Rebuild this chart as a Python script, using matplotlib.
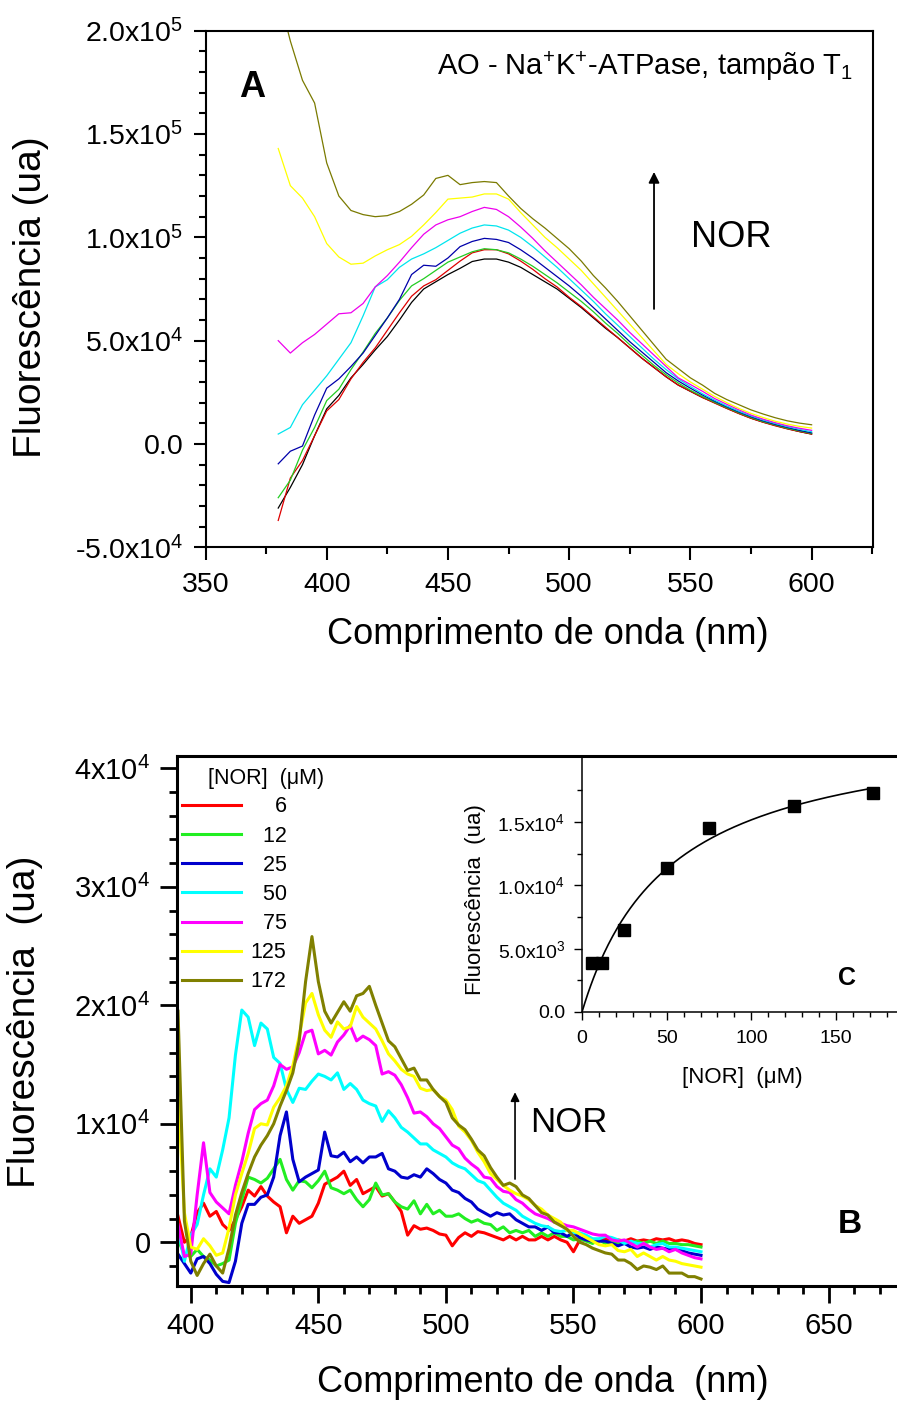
import numpy as np
import matplotlib
matplotlib.use("Agg")
import matplotlib.pyplot as plt
from matplotlib.ticker import MultipleLocator, FuncFormatter, FixedLocator

plt.rcParams['font.family'] = ['Liberation Sans', 'DejaVu Sans']
plt.rcParams['mathtext.fontset'] = 'custom'
plt.rcParams['mathtext.rm'] = 'Liberation Sans'
plt.rcParams['mathtext.it'] = 'Liberation Sans:italic'
plt.rcParams['mathtext.bf'] = 'Liberation Sans:bold'
plt.rcParams['mathtext.default'] = 'regular'

# =========================
# Painel A: espectros (x1000 ua), 380-600 nm, passo 5 nm
# =========================
wl_a = np.arange(380, 601, 5)

a_black = [-31, -21, -10, 4, 17, 23.5, 32, 38.5, 45.5, 52, 60, 68.5, 75, 78.5, 82,
           85, 88.3, 89.5, 89.5, 88, 85.5, 82, 78.5, 75, 70.5, 66, 61, 56, 51.5, 46.5,
           41.5, 37, 32.5, 28.5, 25.5, 22.5, 20, 17.3, 14.8, 12.5, 10.6, 9, 7.4, 6, 4.8]
a_red = [-37, -16.5, -8, 4, 16, 21.5, 31.5, 39.5, 46.5, 55, 63.5, 71.5, 76.5, 79.5, 84,
         88.5, 92.5, 94, 94, 92, 88.5, 84.5, 80, 76, 71, 66.5, 61.5, 56.5, 51.5, 46.5,
         41.5, 37, 32.5, 28.5, 25.5, 22.5, 19.8, 17.2, 14.7, 12.4, 10.5, 8.8, 7.3, 6, 4.8]
a_green = [-26, -17.5, -3, 8, 21, 26.5, 36, 44.5, 53.5, 61, 69.5, 76.5, 80, 84, 88,
           90.5, 93, 94.5, 94, 92.5, 89.5, 86, 82, 78, 73.5, 69, 64, 58.5, 53.5, 48,
           43, 38, 33.5, 29.5, 26, 23, 20.2, 17.6, 15.1, 12.8, 10.8, 9.2, 7.6, 6.3, 5.1]
a_blue = [-9.6, -3.5, -1, 14, 27, 31.5, 37.5, 44, 52.5, 61, 70, 82, 86.5, 86, 90,
          95.5, 98, 99.5, 99, 97.5, 94, 90, 85.5, 81, 76.5, 71.5, 66, 60.5, 55, 49.5,
          44.5, 39.5, 34.5, 30.5, 27, 23.7, 20.7, 18, 15.5, 13.2, 11.2, 9.5, 8, 6.6, 5.4]
a_cyan = [4.8, 8, 19, 26, 33, 41, 49, 62, 76, 79.5, 85.5, 89.5, 92, 95, 98.5,
          102, 104.5, 106, 105.5, 103.5, 100, 95.5, 90.5, 85.5, 80, 74.5, 69, 63, 57.5, 52,
          46.5, 41, 36, 31.5, 27.8, 24.3, 21.2, 18.4, 15.9, 13.6, 11.6, 9.9, 8.4, 7.1, 5.9]
a_magenta = [50, 44, 49, 53, 58, 63, 63.5, 68, 76, 81.5, 88, 95, 101.5, 106, 108.5,
             110, 112.5, 114.5, 113.5, 110, 105, 99.5, 93.5, 88, 82.5, 77, 71, 65.5, 60, 54,
             48.5, 43, 37.5, 32, 28.8, 25.5, 22, 19.2, 16.5, 14, 12, 10.3, 8.8, 7.6, 6.6]
a_yellow = [143, 125, 119, 110, 97, 90.5, 87, 87.5, 91, 94, 96.5, 100.5, 106, 112, 118.5,
            119, 119.5, 121, 121, 118.5, 112, 106, 100, 95, 89.5, 84, 77.5, 71, 64.5, 58,
            51.5, 45, 38.5, 34, 30, 26.5, 23, 20, 17.2, 14.8, 12.8, 11, 9.6, 8.5, 7.7]
a_olive = [218, 195, 176, 165, 136, 120, 113, 111, 110, 110.5, 112.5, 116, 120.5, 128.5, 130,
           125.5, 126.5, 127, 126.5, 120, 114, 109, 104.5, 99.5, 94.5, 88.5, 81.5, 75.5, 69, 62,
           55, 48, 41, 36.5, 32, 28.5, 24.5, 21.5, 19, 16.5, 14.5, 12.7, 11.2, 10.1, 9.3]

# =========================
# Painel B: espectros diferença (x1000 ua), 395-600 nm, passo 2.5 nm
# =========================
wl_b = np.arange(395, 600.1, 2.5)
nor_labels = ['6', '12', '25', '50', '75', '125', '172']

b_red = [2.2, 0.0, 0.5, 2.5, 3.3, 2.2, 2.6, 1.5, 1.0, 1.9,
         3.0, 4.4, 3.9, 4.7, 3.9, 3.4, 3.0, 0.8, 2.2, 1.6,
         1.9, 2.2, 3.3, 4.9, 5.2, 5.5, 6.0, 4.8, 5.3, 4.1,
         4.4, 4.7, 3.9, 4.1, 3.4, 2.6, 0.6, 1.4, 1.1, 1.2,
         1.0, 0.7, 0.6, -0.3, 0.4, 0.8, 0.5, 0.9, 0.8, 0.6,
         0.4, 0.2, 0.5, 0.2, 0.5, 0.2, 0.2, 0.5, 0.2, 0.5,
         0.2, 0.0, -0.8, 0.2, 0.2, 0.1, 0.1, 0.3, 0.1, 0.2,
         0.1, 0.3, 0.1, 0.2, 0.1, 0.3, 0.2, 0.3, 0.1, 0.2,
         0.1, -0.1, -0.2]
b_green = [0.2, -1.0, -1.2, -0.6, -1.2, -1.5, -2.0, -1.8, -1.5, 1.6,
           3.6, 5.5, 5.3, 5.0, 5.4, 6.2, 7.0, 5.3, 4.4, 5.2,
           5.1, 4.6, 5.2, 6.0, 4.6, 4.4, 4.1, 4.4, 3.6, 3.0,
           3.6, 5.0, 4.0, 4.1, 3.4, 3.0, 2.8, 3.5, 2.4, 3.2,
           2.4, 2.7, 2.2, 2.2, 2.4, 2.0, 1.7, 1.9, 1.6, 1.5,
           1.0, 1.3, 0.8, 1.0, 0.8, 1.0, 0.5, 0.8, 0.5, 0.8,
           0.5, 0.5, 0.2, 0.3, 0.1, -0.1, 0.2, -0.1, 0.1, -0.1,
           0.1, -0.1, 0.1, -0.1, 0.1, -0.1, 0.1, -0.1, -0.1, -0.2,
           -0.2, -0.3, -0.4]
b_blue = [-1.0, -1.8, -2.6, -1.4, -1.2, -1.8, -2.7, -3.3, -3.4, -1.6,
          1.6, 3.2, 3.2, 3.8, 4.0, 5.5, 9.0, 11.0, 7.0, 5.1,
          5.5, 5.8, 6.1, 9.3, 7.3, 7.2, 7.6, 6.8, 7.2, 6.7,
          7.2, 7.2, 7.5, 6.2, 6.0, 5.5, 5.4, 5.7, 5.5, 6.2,
          5.8, 5.3, 5.0, 4.4, 4.2, 3.7, 3.4, 2.8, 2.5, 2.2,
          2.5, 2.3, 2.4, 1.9, 1.6, 1.3, 1.3, 1.0, 1.3, 0.8,
          0.8, 0.5, 0.8, 0.4, 0.2, 0.1, 0.1, 0.1, -0.1, -0.3,
          -0.1, -0.4, -0.5, -0.4, -0.6, -0.4, -0.5, -0.6, -0.6, -0.7,
          -0.9, -1.0, -1.1]
b_cyan = [1.2, -1.6, 0.6, 1.5, 4.0, 6.2, 5.5, 7.8, 10.5, 15.8,
          19.6, 19.0, 16.6, 18.5, 18.0, 15.6, 15.1, 12.9, 11.8, 13.0,
          12.9, 13.6, 14.2, 14.0, 13.7, 14.3, 12.9, 13.4, 12.9, 12.0,
          11.7, 11.5, 10.2, 11.1, 10.5, 9.7, 9.3, 8.8, 8.3, 8.3,
          7.8, 7.5, 7.2, 6.7, 6.4, 6.2, 5.7, 5.2, 5.0, 4.4,
          3.8, 3.3, 3.0, 2.7, 2.2, 1.9, 1.6, 1.4, 1.3, 1.0,
          0.9, 1.0, 0.8, 0.8, 0.6, 0.3, 0.3, 0.5, 0.4, 0.2,
          -0.1, 0.1, -0.1, -0.1, -0.4, -0.2, -0.1, -0.4, -0.4, -0.5,
          -0.6, -0.7, -0.8]
b_magenta = [1.5, -1.2, -1.0, 4.0, 8.4, 4.2, 3.4, 2.9, 2.4, 4.8,
             6.8, 9.2, 11.2, 11.7, 12.0, 13.2, 15.0, 14.6, 14.8, 16.0,
             17.7, 17.9, 15.9, 16.2, 15.8, 16.9, 17.5, 18.3, 17.0, 17.4,
             17.1, 16.6, 14.2, 14.4, 14.1, 13.3, 12.2, 10.9, 11.0, 10.6,
             10.0, 9.6, 8.9, 8.2, 7.9, 7.1, 6.6, 6.2, 5.5, 5.4,
             4.7, 4.3, 4.2, 3.6, 3.3, 2.8, 2.4, 2.2, 2.0, 1.7,
             1.6, 1.4, 1.3, 1.1, 0.9, 0.7, 0.6, 0.6, 0.2, 0.1,
             0.2, -0.1, -0.4, -0.1, -0.4, -0.6, -0.5, -0.8, -0.6, -0.9,
             -1.1, -1.3, -1.4]
b_yellow = [12.5, 2.5, -0.4, -0.6, 0.3, -0.3, -1.1, -0.9, 1.2, 4.0,
            5.8, 7.5, 9.6, 10.0, 9.9, 11.4, 12.2, 13.2, 14.9, 17.4,
            20.2, 21.0, 19.2, 17.9, 17.3, 18.6, 18.0, 18.2, 19.9, 19.0,
            18.5, 18.0, 17.0, 15.9, 15.3, 14.6, 14.2, 14.0, 13.0, 12.8,
            12.9, 12.3, 12.0, 11.2, 9.8, 9.3, 8.6, 7.6, 6.8, 5.8,
            5.3, 4.8, 4.4, 4.1, 3.9, 3.6, 3.1, 2.8, 2.3, 2.0,
            1.7, 1.0, 1.0, 0.7, 0.4, 0.1, -0.2, -0.3, -0.2, -0.7,
            -0.8, -0.6, -1.2, -0.9, -1.2, -1.5, -1.2, -1.5, -1.6, -1.8,
            -1.9, -2.0, -2.1]
b_olive = [19.5, 1.8, -1.6, -2.8, -1.8, -1.0, -2.0, -2.6, -0.5, 2.3,
           4.2, 5.8, 7.2, 8.2, 9.0, 10.0, 11.5, 12.8, 14.3, 17.0,
           22.0, 25.8, 22.0, 19.5, 18.5, 19.4, 20.3, 19.5, 20.8, 21.0,
           21.6, 20.0, 18.5, 17.0, 16.5, 15.5, 14.5, 14.7, 13.7, 13.7,
           12.9, 12.3, 11.8, 10.5, 9.9, 9.5, 8.7, 7.8, 7.3, 6.3,
           5.5, 4.8, 5.0, 4.7, 4.0, 3.7, 3.1, 2.5, 2.3, 1.7,
           1.4, 1.1, 0.5, 0.0, -0.2, -0.5, -0.7, -0.9, -1.0, -1.5,
           -1.5, -1.8, -2.3, -2.0, -2.1, -2.3, -2.0, -2.6, -2.6, -2.6,
           -2.9, -2.9, -3.1]

# =========================
# Inset C: intensidade vs [NOR]
# =========================
nor_conc = [6, 12, 25, 50, 75, 125, 172]
inset_fluo = [3850, 3900, 6450, 11400, 14500, 16300, 17300]

cores = ['#ff0000', '#22ee22', '#0000cc', '#00ffff', '#ff00ff', '#ffff00', '#808000']
cores_a = ['#000000', '#dd0000', '#22cc22', '#0000aa', '#00e5ee', '#ee00ee', '#ffff00', '#7a7a00']


def sci_label(v, dec):
    if abs(v) < 1e-9:
        return '0' if dec == 0 else '0.' + '0' * dec
    e = int(np.floor(np.log10(abs(v)) + 1e-9))
    m = v / 10 ** e
    return f'{m:.{dec}f}x10$^{{{e}}}$'


W, H = 897, 1401
fig = plt.figure(figsize=(W / 100, H / 100), dpi=100)

# =========================
# Painel A
# =========================
axA = fig.add_axes([205.5 / W, (H - 547.3) / H, 667.2 / W, 516.6 / H])
series_a = [a_black, a_red, a_green, a_blue, a_cyan, a_magenta, a_yellow, a_olive]
for vals, c in zip(series_a, cores_a):
    axA.plot(wl_a, np.array(vals) * 1000, color=c, lw=0.9)

axA.set_xlim(350, 625.2)
axA.set_ylim(-5e4, 2e5)
axA.xaxis.set_major_locator(MultipleLocator(50))
axA.xaxis.set_minor_locator(MultipleLocator(25))
axA.yaxis.set_major_locator(MultipleLocator(5e4))
axA.yaxis.set_minor_locator(MultipleLocator(1e4))
axA.yaxis.set_major_formatter(FuncFormatter(lambda v, p: sci_label(v, 1)))
axA.tick_params(which='both', direction='out', width=1.5, labelsize=20.5)
axA.tick_params(which='major', length=9)
axA.tick_params(which='minor', length=5)
axA.tick_params(axis='x', pad=9)
axA.tick_params(axis='y', pad=7)
for s in axA.spines.values():
    s.set_linewidth(1.5)

axA.set_xlabel('Comprimento de onda (nm)', fontsize=26)
axA.set_ylabel('Fluorescência (ua)', fontsize=28)
axA.xaxis.set_label_coords(0.513, -0.135)
axA.yaxis.set_label_coords(-0.234, 0.485)

axA.text(0.050, 0.872, 'A', transform=axA.transAxes, fontsize=26, fontweight='bold')
axA.text(0.347, 0.914, 'AO - Na$^{+}$K$^{+}$-ATPase, tampão T$_{1}$',
         transform=axA.transAxes, fontsize=21)
axA.text(0.7275, 0.5813, 'NOR', transform=axA.transAxes, fontsize=26)
axA.annotate('', xy=(535, 133000), xytext=(535, 64000),
             arrowprops=dict(arrowstyle='-|>', lw=1.3, color='black', mutation_scale=16))

# =========================
# Painel B
# =========================
axB = fig.add_axes([177 / W, (H - 1286) / H, 723 / W, 530 / H])
series_b = [b_red, b_green, b_blue, b_cyan, b_magenta, b_yellow, b_olive]
lines = []
for vals, c, lab in zip(series_b, cores, nor_labels):
    ln, = axB.plot(wl_b, np.array(vals) * 1000, color=c, lw=2.2, label=lab.rjust(3, '\u2007'))
    lines.append(ln)

axB.set_xlim(394.6, 678)
axB.set_ylim(-3690, 41040)
axB.xaxis.set_major_locator(MultipleLocator(50))
axB.xaxis.set_minor_locator(MultipleLocator(10))
axB.yaxis.set_major_locator(MultipleLocator(1e4))
axB.yaxis.set_minor_locator(MultipleLocator(2e3))
axB.yaxis.set_major_formatter(FuncFormatter(lambda v, p: sci_label(v, 0)))
axB.tick_params(which='both', direction='out', width=2, labelsize=21)
axB.tick_params(which='major', length=12)
axB.tick_params(which='minor', length=6)
axB.tick_params(axis='x', pad=7)
axB.tick_params(axis='y', pad=7)
for s in axB.spines.values():
    s.set_linewidth(2.2)

axB.set_xlabel('Comprimento de onda  (nm)', fontsize=26)
axB.set_ylabel('Fluorescência  (ua)', fontsize=28)
axB.xaxis.set_label_coords(0.506, -0.15)
axB.yaxis.set_label_coords(-0.186, 0.498)

axB.text(0.043, 0.958, '[NOR]  (\u03bcM)', transform=axB.transAxes, fontsize=15.5,
         va='center')
leg = axB.legend(handles=lines, loc='upper left', bbox_to_anchor=(-0.0055, 0.9400),
                 frameon=False, fontsize=15.5, handlelength=2.75, handletextpad=0.45,
                 labelspacing=0.38, borderaxespad=0.0)

axB.text(0.914, 0.10, 'B', transform=axB.transAxes, fontsize=24, fontweight='bold')
axB.text(532.9, 9330, 'NOR', fontsize=25)
axB.annotate('', xy=(527.1, 12900), xytext=(527.1, 5100),
             arrowprops=dict(arrowstyle='-|>', lw=1.2, color='black', mutation_scale=13))

# =========================
# Inset C
# =========================
axC = fig.add_axes([582 / W, (H - 1012) / H, 315 / W, 256 / H])
axC.set_facecolor('none')

# ajuste hiperbólico F = Fmax*c/(K+c) pelos pontos
xc = np.array(nor_conc, dtype=float)
yc = np.array(inset_fluo, dtype=float)
best = None
for K in np.linspace(1, 400, 4000):
    g = xc / (K + xc)
    fmax = g @ yc / (g @ g)
    r = np.sum((yc - fmax * g) ** 2)
    if best is None or r < best[0]:
        best = (r, K, fmax)
_, K_fit, F_fit = best
xf = np.linspace(0, 172, 200)
axC.plot(xf, F_fit * xf / (K_fit + xf), color='black', lw=1.2)
axC.plot(nor_conc, inset_fluo, 's', color='black', markersize=8)

axC.set_xlim(0, 186)
axC.set_ylim(0, 20210)
axC.xaxis.set_major_locator(MultipleLocator(50))
axC.xaxis.set_minor_locator(MultipleLocator(10))
axC.yaxis.set_major_locator(FixedLocator([0, 5e3, 1e4, 1.5e4]))
axC.yaxis.set_minor_locator(FixedLocator([2.5e3, 7.5e3, 1.25e4, 1.75e4]))
axC.yaxis.set_major_formatter(FuncFormatter(lambda v, p: sci_label(v, 1)))
axC.tick_params(which='both', direction='out', width=1, labelsize=14)
axC.tick_params(which='major', length=6)
axC.tick_params(which='minor', length=3.5)
axC.tick_params(axis='x', pad=7)
axC.tick_params(axis='y', pad=6)
axC.spines['top'].set_visible(False)
axC.spines['right'].set_visible(False)
for s in ['left', 'bottom']:
    axC.spines[s].set_linewidth(1.1)

axC.set_xlabel('[NOR]  (\u03bcM)', fontsize=16)
axC.set_ylabel('Fluorescência  (ua)', fontsize=16)
axC.xaxis.set_label_coords(0.508, -0.215)
axC.yaxis.set_label_coords(-0.305, 0.4375)
axC.text(0.813, 0.105, 'C', transform=axC.transAxes, fontsize=18, fontweight='bold')

fig.savefig('out.png', dpi=100)
